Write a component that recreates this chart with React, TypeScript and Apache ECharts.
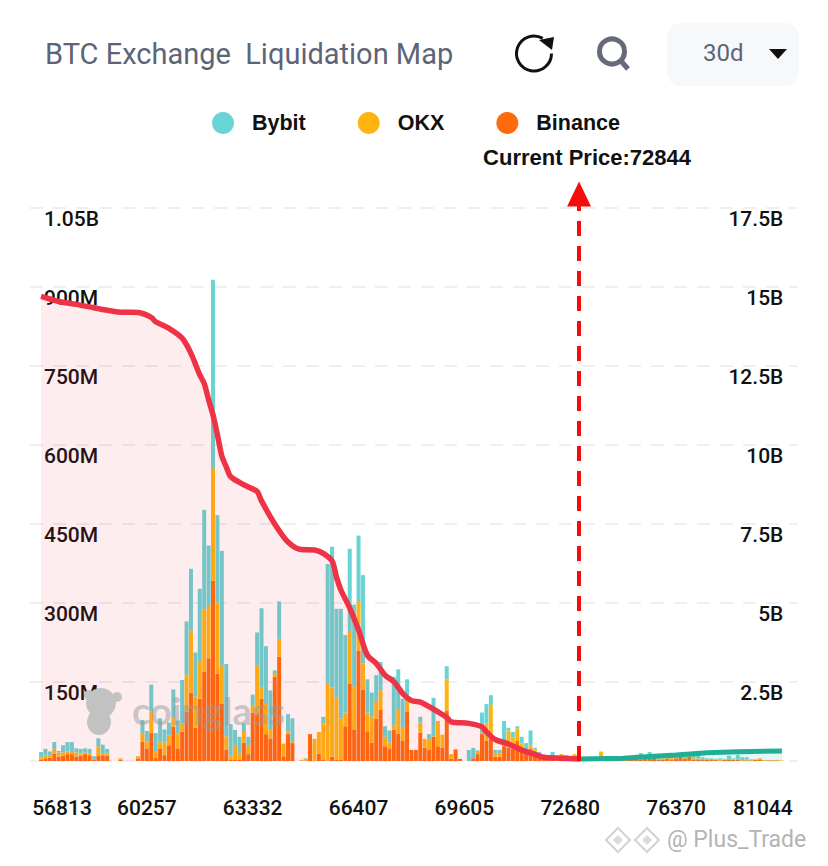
import React, { useEffect, useRef } from "react";
import * as echarts from "echarts";

const xTickLabels = ["56813", "60257", "63332", "66407", "69605", "72680", "76370", "81044"];
const leftTickLabels = ["", "150M", "300M", "450M", "600M", "750M", "900M", "1.05B"];
const rightTickLabels = ["", "2.5B", "5B", "7.5B", "10B", "12.5B", "15B", "17.5B"];
const currentPrice = "72844";
const currentPriceIndex = 124;

// Values in millions, one per price bucket
const binance = [0,0,
3,5,6,14,8,10,13,13,8,10,13,11,2,10,11,10,0,0,2,0,0,0,
5,37,24,53,6,24,11,30,65,24,56,94,130,63,118,170,195,342,166,109,22,3,3,3,35,13,92,89,118,51,43,160,198,9,51,34,
0,1,1,51,1,14,2,1,8,2,2,66,147,60,210,135,55,35,80,98,28,24,59,52,38,93,21,21,54,25,21,46,28,25,96,4,22,4,
0,0,5,13,51,39,42,8,8,28,25,24,38,19,16,24,13,6,3,3,4,1,5,4,7,9,3,0,0,1,0,0,
1,1,1,2,2,2,2,3,3,4,5,6,3,2,4,3,5,8,4,9,3,3,3,2,2,2,1,2,2,2,2,1,1,1,2,3,1,1,1,1,0,
0,0,0,0,0];
const okx = [0,0,
4,5,4,9,8,6,5,4,8,4,3,3,2,18,4,4,0,0,3,0,0,0,
4,16,13,41,13,13,24,18,17,28,16,68,118,59,72,118,101,214,135,73,25,7,27,11,20,17,14,93,21,59,16,7,34,24,5,4,
0,1,1,0,41,41,69,147,131,118,79,26,100,82,92,50,37,49,34,36,18,11,9,45,25,20,0,0,19,17,21,1,48,25,59,9,0,0,
0,0,0,4,3,32,63,7,7,7,33,20,24,14,7,6,9,0,0,3,4,1,8,7,0,4,3,1,6,0,0,18,
1,0,1,1,1,1,2,1,2,2,2,1,2,3,2,3,3,3,4,3,2,2,1,2,2,1,2,1,2,1,2,1,2,1,1,2,1,0,0,1,1,
0,0,0,0,0];
const bybit = [0,0,
10,13,8,13,3,14,18,19,8,9,8,9,5,15,16,9,0,0,0,0,0,0,
0,25,20,51,34,44,25,25,54,25,82,103,117,84,137,189,113,358,166,217,137,60,29,32,17,16,20,62,151,108,75,5,71,0,33,43,
0,0,3,0,0,0,13,226,268,169,208,147,156,155,126,168,63,46,49,54,20,23,92,77,55,42,0,0,11,0,9,73,0,0,25,0,0,0,
0,21,20,3,38,37,20,6,6,41,5,11,4,13,11,28,3,11,0,4,9,0,0,0,0,0,0,0,0,0,0,0,
0,0,0,0,1,1,2,8,10,3,10,3,2,2,2,3,2,2,2,1,7,8,3,1,1,1,2,1,6,2,8,5,4,1,0,0,0,0,0,0,0,
0,0,0,0,0];

// [bucket index, cumulative value in billions]
const shortCumulative = [
[2,14.7],[4,14.62],[6,14.54],[10,14.45],[13,14.37],[16,14.29],[19,14.22],[22,14.2],[24,14.19],[27,14.04],[28,13.9],[31,13.69],[34,13.38],[36,12.9],[38,12.22],[39,11.95],[40,11.43],[41,10.95],[42,10.32],[43,9.65],[44,9.31],[45,9.0],[47,8.82],[49,8.67],[51,8.53],[52,8.23],[55,7.5],[58,6.93],[61,6.69],[64,6.68],[66,6.57],[68,6.33],[69,5.82],[70,5.41],[72,4.84],[74,4.15],[76,3.35],[78,3.09],[80,2.72],[82,2.51],[84,2.14],[86,1.91],[88,1.86],[90,1.72],[94,1.38],[95,1.24],[99,1.19],[102,1.08],[103,0.92],[105,0.68],[108,0.54],[111,0.35],[114,0.21],[116,0.12],[120,0.09],[124,0.06],
];
const longCumulative = [[124,0.06],[134,0.09],[140,0.14],[146,0.19],[153,0.26],[160,0.29],[170,0.32]];

const BUCKETS = 174;
const FIRST_TICK = 2;
const TICK_STEP = 24;
const categories = Array.from({ length: BUCKETS }, (_, i) => {
  const k = (i - FIRST_TICK) / TICK_STEP;
  return Number.isInteger(k) && xTickLabels[k] ? xTickLabels[k] : "";
});

const NUM_FONT = "Roboto";
const ARIAL = "Liberation Sans";
const GREY = "#5d6478";
const MASCOT = "#c2c2c2";
const TOP = 20;

export default function App() {
  const ref = useRef<HTMLDivElement>(null);
  useEffect(() => {
    const chart = echarts.init(ref.current!, undefined, { renderer: "svg" });
    const barSeries = (name: string, data: number[], color: string) => ({
      name,
      type: "bar",
      stack: "liq",
      data,
      barWidth: 4,
      itemStyle: { color },
      z: 2,
    });
    const numLabel = { color: "#111", fontFamily: NUM_FONT, fontWeight: 500, fontSize: 21 };
    chart.setOption({
      animation: false,
      backgroundColor: "#fff",
      legend: {
        data: ["Bybit", "OKX", "Binance"],
        left: 207,
        top: 107,
        icon: "circle",
        itemWidth: 22,
        itemHeight: 22,
        itemGap: 52,
        textStyle: { fontFamily: ARIAL, fontWeight: "bold", fontSize: 21.5, color: "#111", padding: [0, 0, 0, 13] },
        selectedMode: false,
      },
      grid: { left: 30, top: 208, width: BUCKETS * 4.41, height: 553 },
      xAxis: {
        type: "category",
        data: categories,
        axisLine: { show: false },
        axisTick: { show: false },
        splitLine: { show: false },
        axisLabel: {
          ...numLabel,
          interval: (i: number) => categories[i] !== "",
          margin: 36,
          hideOverlap: false,
          formatter: (v: string) =>
            v === xTickLabels[0] ? `{first|${v}}` : v === xTickLabels[7] ? `{last|${v}}` : v,
          rich: {
            first: { ...numLabel, padding: [0, 0, 0, 42] },
            last: { ...numLabel, padding: [0, 38, 0, 0] },
          },
        },
      },
      yAxis: [
        {
          type: "value",
          min: 0,
          max: 1050,
          interval: 150,
          position: "left",
          axisLine: { show: false },
          axisTick: { show: false },
          splitLine: { show: true, lineStyle: { color: "#f0eeee", width: 2, type: [13, 10] } },
          axisLabel: {
            ...numLabel,
            inside: true,
            margin: 14,
            verticalAlign: "top",
            lineHeight: 21,
            formatter: (_: number, i: number) => leftTickLabels[i],
          },
        },
        {
          type: "value",
          min: 0,
          max: 17.5,
          interval: 2.5,
          position: "right",
          axisLine: { show: false },
          axisTick: { show: false },
          splitLine: { show: false },
          axisLabel: {
            ...numLabel,
            inside: true,
            margin: 14,
            verticalAlign: "top",
            lineHeight: 21,
            formatter: (_: number, i: number) => rightTickLabels[i],
          },
        },
      ],
      series: [
        barSeries("Binance", binance, "#ff6a0d"),
        barSeries("OKX", okx, "#ffb412"),
        barSeries("Bybit", bybit, "#68d4d4"),
        {
          name: "Short",
          type: "line",
          yAxisIndex: 1,
          data: shortCumulative,
          showSymbol: false,
          smooth: 0.3,
          lineStyle: { color: "#ee3347", width: 5.5 },
          areaStyle: { color: "#f23a4a", opacity: 0.09 },
          z: 4,
        },
        {
          name: "Long",
          type: "line",
          yAxisIndex: 1,
          data: longCumulative,
          showSymbol: false,
          lineStyle: { color: "#1fae96", width: 5 },
          areaStyle: { color: "#2fb8a6", opacity: 0.12 },
          z: 4,
          markLine: {
            silent: true,
            animation: false,
            symbol: ["none", "triangle"],
            symbolSize: [24, 25],
            lineStyle: { color: "#f50d0d", width: 4, type: [15, 10] },
            label: {
              show: true,
              position: "end",
              formatter: `Current Price:${currentPrice}`,
              fontFamily: ARIAL,
              fontWeight: "bold",
              fontSize: 22,
              color: "#111",
              distance: 26,
              offset: [8, 0],
            },
            data: [[{ xAxis: currentPriceIndex, yAxis: 0 }, { xAxis: currentPriceIndex, y: 194 }]],
          },
        },
      ],
      graphic: [
        { type: "text", left: 45, top: 39, style: { text: "BTC Exchange  Liquidation Map", fontFamily: NUM_FONT, fontSize: 29, fill: GREY } },
        // refresh icon
        { type: "arc", shape: { cx: 534, cy: 53.5, r: 17.5, startAngle: 0, endAngle: (300 * Math.PI) / 180, clockwise: true }, style: { stroke: "#111", lineWidth: 3, fill: "none" } },
        { type: "polygon", shape: { points: [[539, 40], [554, 37], [552, 50]] }, style: { fill: "#111" } },
        // search icon
        { type: "circle", shape: { cx: 612, cy: 51.5, r: 12.5 }, style: { stroke: "#666b7a", lineWidth: 5, fill: "none" } },
        { type: "line", shape: { x1: 621, y1: 61, x2: 628, y2: 69 }, style: { stroke: "#666b7a", lineWidth: 5 } },
        // period selector
        { type: "rect", shape: { x: 667, y: 23, width: 132, height: 63, r: 14 }, style: { fill: "#f7f8fa" } },
        { type: "text", left: 703, top: 41, style: { text: "30d", fontFamily: NUM_FONT, fontSize: 24, fill: GREY } },
        { type: "polygon", shape: { points: [[769, 49], [787, 49], [778, 59]] }, style: { fill: "#111" } },
        // coinglass watermark
        { type: "circle", z: TOP, shape: { cx: 101, cy: 703, r: 15 }, style: { fill: MASCOT } },
        { type: "circle", z: TOP, shape: { cx: 89, cy: 695, r: 5 }, style: { fill: MASCOT } },
        { type: "circle", z: TOP, shape: { cx: 117, cy: 697, r: 5 }, style: { fill: MASCOT } },
        { type: "ellipse", z: TOP, shape: { cx: 99, cy: 722, rx: 12, ry: 13 }, style: { fill: MASCOT } },
        { type: "text", z: TOP, x: 132, y: 691, style: { text: "coinglass", fontFamily: "Lato", fontWeight: "bold", fontSize: 38, fill: "#9a9a9a", opacity: 0.5 } },
        // reposting watermark
        { type: "polygon", shape: { points: [[618, 828], [630, 840], [618, 852], [606, 840]] }, style: { stroke: "#d2d2d2", lineWidth: 2, fill: "none" } },
        { type: "polygon", shape: { points: [[618, 835], [623, 840], [618, 845], [613, 840]] }, style: { fill: "#dadada" } },
        { type: "polygon", shape: { points: [[647, 828], [659, 840], [647, 852], [635, 840]] }, style: { stroke: "#d2d2d2", lineWidth: 2, fill: "none" } },
        { type: "polygon", shape: { points: [[647, 835], [652, 840], [647, 845], [642, 840]] }, style: { fill: "#dadada" } },
        { type: "text", x: 667, y: 828, style: { text: "@ Plus_Trade", fontFamily: NUM_FONT, fontSize: 23, fill: "#b4b4b4" } },
      ],
    });
    return () => chart.dispose();
  }, []);
  return (
    <div
      ref={ref}
      style={{ position: "absolute", left: 0, top: 0, width: 828, height: 866, background: "#fff" }}
    />
  );
}
